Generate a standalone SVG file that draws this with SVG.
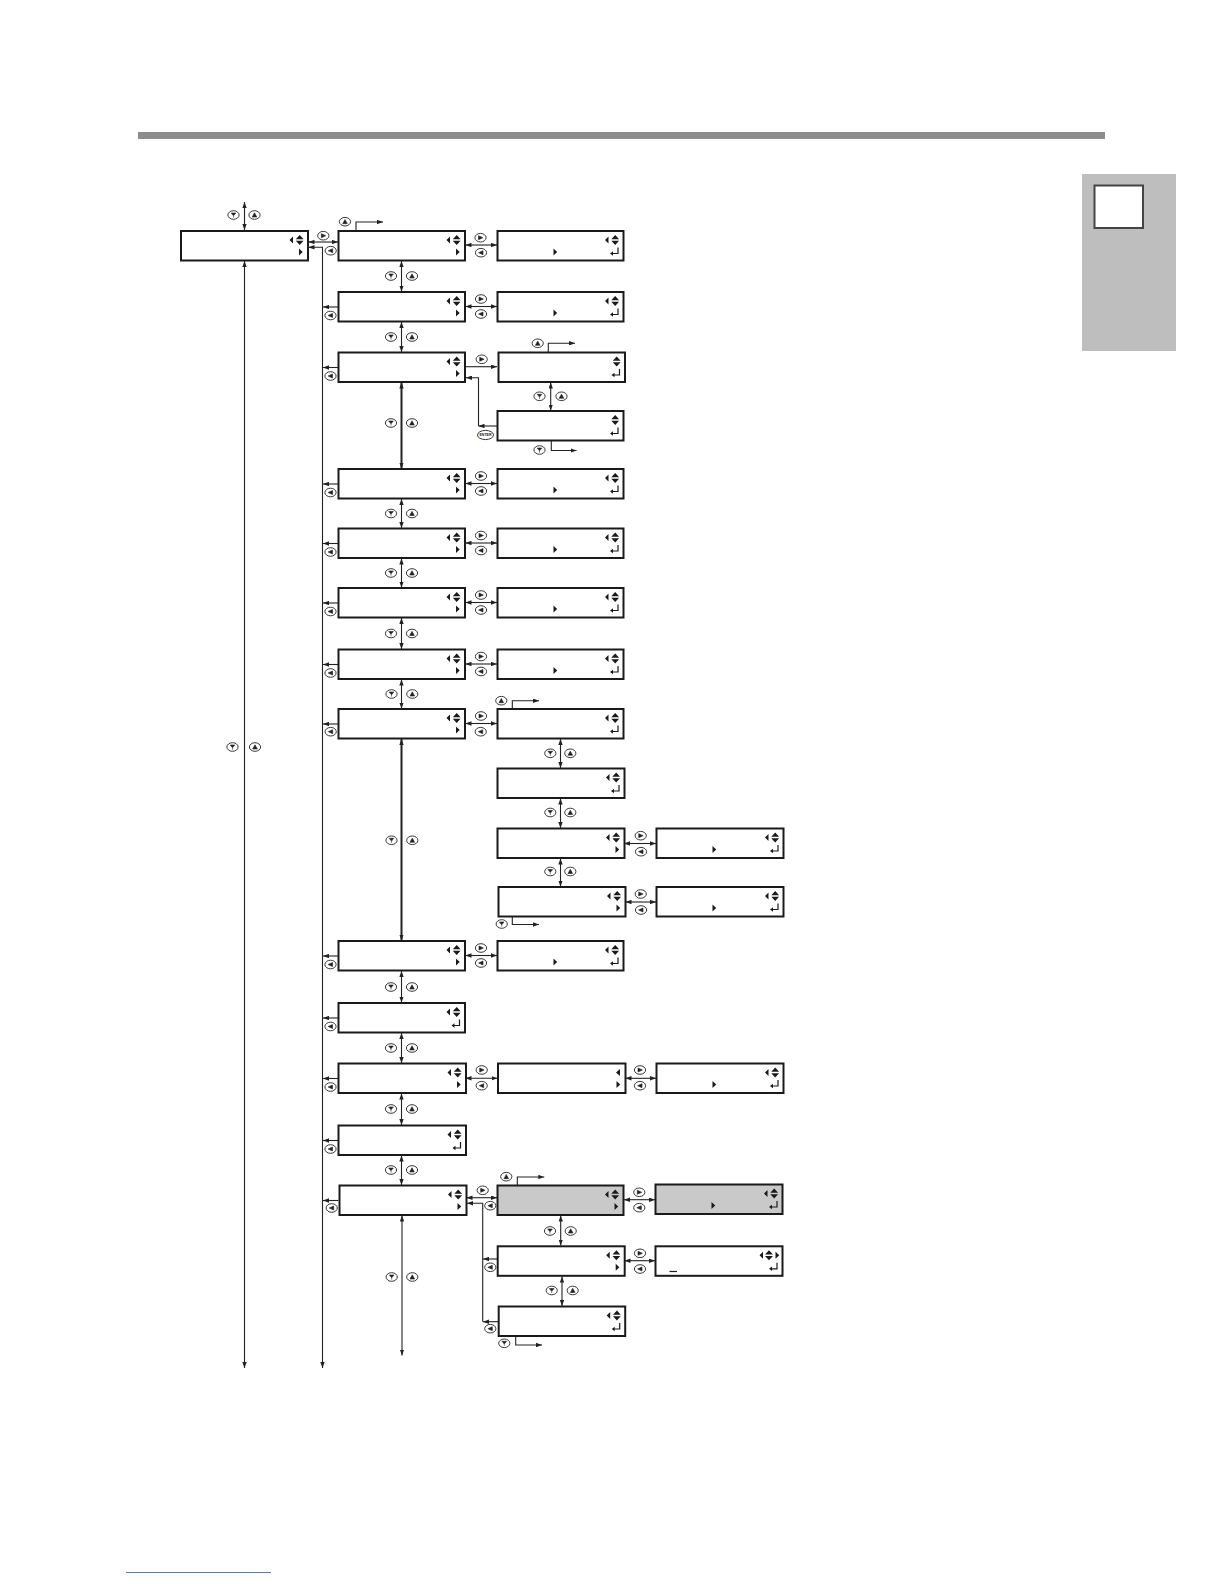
<svg xmlns="http://www.w3.org/2000/svg" xmlns:xlink="http://www.w3.org/1999/xlink" width="1224" height="1584" viewBox="0 0 1224 1584">
<style>
.box{fill:#fff;stroke:#1a1a1a;stroke-width:2}
.gbox{fill:#c9c9c9;stroke:#1a1a1a;stroke-width:2}
.ic{fill:#1a1a1a;stroke:none}
.ret{fill:none;stroke:#1a1a1a;stroke-width:1.2}
.c{fill:none;stroke:#222;stroke-width:1.1}
.ct{fill:none;stroke:#222;stroke-width:2}
.a2{marker-start:url(#ah);marker-end:url(#ah)}
.a1{marker-end:url(#ah)}
.be{fill:#fff;stroke:#222;stroke-width:0.9}
.bs{fill:#222;stroke:#222;stroke-width:0.6}
.et{font-family:"Liberation Sans",Arial,sans-serif;font-size:3.6px;font-weight:bold;fill:#222}
</style>
<defs>
<marker id="ah" markerUnits="userSpaceOnUse" markerWidth="6" markerHeight="4.4" refX="6" refY="2.2" orient="auto-start-reverse"><path d="M0,0 L6,2.2 L0,4.4 Z" fill="#222"/></marker>
<g id="iLU"><path class="ic" d="M-18.5,9 L-15,5.5 L-15,12.5 Z M-12.2,8.3 L-8.3,4 L-4.4,8.3 Z M-12.2,9.7 L-8.3,14 L-4.4,9.7 Z"/></g>
<g id="iUD"><path class="ic" d="M-12.2,8.3 L-8.3,4 L-4.4,8.3 Z M-12.2,9.7 L-8.3,14 L-4.4,9.7 Z"/></g>
<g id="iL"><path class="ic" d="M-9.5,9 L-5.5,5.5 L-5.5,12.5 Z"/></g>
<g id="iR"><path class="ic" d="M-9,17.5 L-5.3,21 L-9,24.5 Z"/></g>
<g id="iRL"><path class="ic" d="M-23,9 L-19.5,5.5 L-19.5,12.5 Z M-17.5,8.3 L-13.5,4 L-9.5,8.3 Z M-17.5,9.7 L-13.5,14 L-9.5,9.7 Z M-7,5.5 L-3.2,9 L-7,12.5 Z"/></g>
<g id="iRet"><path class="ret" d="M-5.5,16.5 V22.5 H-11"/><path class="ic" d="M-13.5,22.5 L-10.5,20.3 L-10.5,24.7 Z"/></g>
<g id="iMid"><path class="ic" d="M56,17.5 L59.7,21 L56,24.5 Z"/></g>
<g id="bD"><ellipse class="be" rx="5.6" ry="4.3"/><path class="bs" d="M-2.3,-2 L2.3,-2 L0,0.8 Z M0,0.8 V2.6"/></g>
<g id="bU"><ellipse class="be" rx="5.6" ry="4.3"/><path class="bs" d="M-2.3,2 L2.3,2 L0,-2.2 Z"/></g>
<g id="bR"><ellipse class="be" rx="5.6" ry="4.3"/><path class="bs" d="M-2,-2 L2.4,0 L-2,2 Z"/></g>
<g id="bL"><ellipse class="be" rx="5.6" ry="4.3"/><path class="bs" d="M2,-2 L-2.4,0 L2,2 Z"/></g>
</defs>

<rect x="138" y="132" width="967" height="7" fill="#8c8c8c"/>
<g id="tab">
<rect x="1082" y="174" width="94" height="177" fill="#bebebe"/>
<rect x="1094.5" y="185.5" width="48.5" height="42.5" fill="#fff" stroke="#444" stroke-width="2"/>
</g>
<line x1="126" y1="1572.5" x2="271" y2="1572.5" stroke="#5a78c0" stroke-width="1"/>

<g id="connectors">
<!-- column 1 -->
<path class="c a2" d="M244.5,202 V230"/>
<path class="c a2" d="M244.5,261 V1368"/>
<!-- box1 to R1 -->
<path class="c a2" d="M308.5,242 H338"/>
<path class="c a2" d="M322.5,1368 V247.3 H308.5"/>
<path class="c a1" d="M356,231 V222 H383"/>
<!-- column 2 verticals -->
<path class="c a2" d="M401.5,261 V291.5"/>
<path class="c a2" d="M401.5,322 V352"/>
<path class="ct a2" d="M401.5,382.5 V468.5"/>
<path class="c a2" d="M401.5,499 V528"/>
<path class="c a2" d="M401.5,558.5 V587.5"/>
<path class="c a2" d="M401.5,618 V649"/>
<path class="c a2" d="M401.5,679.5 V708.5"/>
<path class="ct a2" d="M401.5,739 V940.5"/>
<path class="c a2" d="M401.5,971 V1002.5"/>
<path class="c a2" d="M401.5,1033 V1063"/>
<path class="c a2" d="M401.5,1093.5 V1125"/>
<path class="c a2" d="M401.5,1155.5 V1185"/>
<path class="c a2" d="M402,1215.5 V1355.5"/>
<!-- column 2 left arrows -->
<path class="c a1" d="M338.5,307 H323"/>
<path class="c a1" d="M338.5,367.5 H323"/>
<path class="c a1" d="M338.5,484 H323"/>
<path class="c a1" d="M338.5,543.5 H323"/>
<path class="c a1" d="M338.5,603 H323"/>
<path class="c a1" d="M338.5,664.5 H323"/>
<path class="c a1" d="M338.5,724 H323"/>
<path class="c a1" d="M338.5,956 H323"/>
<path class="c a1" d="M338.5,1018 H323"/>
<path class="c a1" d="M338.5,1078.5 H323"/>
<path class="c a1" d="M338.5,1140.5 H323"/>
<path class="c a1" d="M338.5,1200.5 H323"/>
<!-- column 2 to column 3 -->
<path class="c a2" d="M465.5,245 H497"/>
<path class="c a2" d="M465.5,306.5 H497"/>
<path class="c a1" d="M465.5,366.7 H497"/>
<path class="c a1" d="M497.5,426 H478.5"/>
<path class="c a1" d="M478.5,426 V377.7 H466"/>
<path class="c a2" d="M465.5,483.5 H497"/>
<path class="c a2" d="M465.5,543 H497"/>
<path class="c a2" d="M465.5,602.5 H497"/>
<path class="c a2" d="M465.5,664 H497"/>
<path class="c a2" d="M465.5,723.5 H497"/>
<path class="c a2" d="M465.5,955.5 H497"/>
<path class="c a2" d="M465.5,1078.3 H497.5"/>
<path class="c a2" d="M466.5,1197.7 H497"/>
<path class="c a1" d="M482.7,1321.7 V1203.3 H467"/>
<path class="c a1" d="M497.5,1259 H483"/>
<path class="c a1" d="M498.5,1321.7 H483"/>
<!-- column 3 verticals -->
<path class="c a2" d="M550.7,382.5 V410.5"/>
<path class="c a2" d="M560.5,739 V768"/>
<path class="c a2" d="M560.5,798.5 V828"/>
<path class="c a2" d="M560.5,858.5 V886.5"/>
<path class="c a2" d="M560.7,1215.5 V1245.5"/>
<path class="c a2" d="M562,1276.5 V1306"/>
<!-- column 3 to column 4 -->
<path class="c a2" d="M624,843.5 H656"/>
<path class="c a2" d="M625.5,902 H656"/>
<path class="c a2" d="M625.5,1078.3 H656"/>
<path class="c a2" d="M624,1199.7 H655"/>
<path class="c a2" d="M624.5,1260.7 H655"/>
<!-- exit loops -->
<path class="c a1" d="M548.3,352.5 V343.3 H575"/>
<path class="c a1" d="M551.3,441 V450.5 H576.5"/>
<path class="c a1" d="M512.3,709 V700.7 H539"/>
<path class="c a1" d="M512.3,917 V924.5 H539"/>
<path class="c a1" d="M517.3,1185.5 V1177 H544.3"/>
<path class="c a1" d="M515.7,1336 V1345 H542"/>
</g>

<g id="buttons">
<use href="#bD" x="233.5" y="215"/><use href="#bU" x="254.5" y="215"/>
<use href="#bD" x="232.5" y="747"/><use href="#bU" x="255" y="747"/>
<use href="#bR" x="323.3" y="235.7"/><use href="#bL" x="330.7" y="250.7"/>
<use href="#bU" x="345" y="221.7"/>
<!-- col2 vertical buttons -->
<use href="#bD" x="391" y="276"/><use href="#bU" x="412" y="276"/>
<use href="#bD" x="391" y="337"/><use href="#bU" x="412" y="337"/>
<use href="#bD" x="391" y="423"/><use href="#bU" x="412" y="423"/>
<use href="#bD" x="391" y="513.5"/><use href="#bU" x="412" y="513.5"/>
<use href="#bD" x="391" y="573"/><use href="#bU" x="412" y="573"/>
<use href="#bD" x="391" y="633.5"/><use href="#bU" x="412" y="633.5"/>
<use href="#bD" x="391.5" y="694"/><use href="#bU" x="412.3" y="694"/>
<use href="#bD" x="391.5" y="840.3"/><use href="#bU" x="412.3" y="840.3"/>
<use href="#bD" x="391" y="987"/><use href="#bU" x="412" y="987"/>
<use href="#bD" x="391" y="1048"/><use href="#bU" x="412" y="1048"/>
<use href="#bD" x="391" y="1109"/><use href="#bU" x="412" y="1109"/>
<use href="#bD" x="391" y="1170"/><use href="#bU" x="412" y="1170"/>
<use href="#bD" x="391.7" y="1277"/><use href="#bU" x="412.3" y="1277"/>
<!-- col2 left buttons -->
<use href="#bL" x="330.5" y="315.5"/>
<use href="#bL" x="330.5" y="376"/>
<use href="#bL" x="330.5" y="492.5"/>
<use href="#bL" x="330.5" y="552"/>
<use href="#bL" x="330.5" y="611.5"/>
<use href="#bL" x="330.5" y="673"/>
<use href="#bL" x="330.7" y="731.7"/>
<use href="#bL" x="330.5" y="964.5"/>
<use href="#bL" x="330.5" y="1026.5"/>
<use href="#bL" x="330.5" y="1087"/>
<use href="#bL" x="330.5" y="1149"/>
<use href="#bL" x="331.7" y="1208"/>
<!-- col2 to col3 buttons -->
<use href="#bR" x="480.5" y="237.7"/><use href="#bL" x="481" y="252.7"/>
<use href="#bR" x="481" y="299"/><use href="#bL" x="481" y="314"/>
<use href="#bR" x="481.7" y="359.3"/>
<g transform="translate(485.5,435)"><ellipse class="be" rx="8" ry="4.6"/><text class="et" x="0" y="1.3" text-anchor="middle">ENTER</text></g>
<use href="#bR" x="481" y="476"/><use href="#bL" x="481" y="491"/>
<use href="#bR" x="481" y="535.5"/><use href="#bL" x="481" y="550.5"/>
<use href="#bR" x="481" y="595"/><use href="#bL" x="481" y="610"/>
<use href="#bR" x="481" y="656.5"/><use href="#bL" x="481" y="671.5"/>
<use href="#bR" x="481" y="716"/><use href="#bL" x="480.7" y="731.7"/>
<use href="#bR" x="481" y="948"/><use href="#bL" x="481" y="963"/>
<use href="#bR" x="481.7" y="1070"/><use href="#bL" x="481.7" y="1085.7"/>
<use href="#bR" x="482.7" y="1190.3"/><use href="#bL" x="490.3" y="1205.7"/>
<use href="#bL" x="490.3" y="1267.3"/>
<use href="#bL" x="490.3" y="1328.7"/>
<!-- col3 vertical buttons -->
<use href="#bD" x="539.5" y="396.3"/><use href="#bU" x="561.5" y="396.3"/>
<use href="#bD" x="550.3" y="753.3"/><use href="#bU" x="570.3" y="753.3"/>
<use href="#bD" x="550.3" y="812.5"/><use href="#bU" x="570.3" y="812.5"/>
<use href="#bD" x="550.3" y="871.5"/><use href="#bU" x="570.3" y="871.5"/>
<use href="#bD" x="550" y="1231"/><use href="#bU" x="570.7" y="1231"/>
<use href="#bD" x="551.7" y="1290.5"/><use href="#bU" x="572.7" y="1290.5"/>
<!-- col3 to col4 buttons -->
<use href="#bR" x="640.7" y="835.7"/><use href="#bL" x="641" y="851.7"/>
<use href="#bR" x="640.7" y="894"/><use href="#bL" x="641" y="910"/>
<use href="#bR" x="640" y="1070"/><use href="#bL" x="640" y="1085.7"/>
<use href="#bR" x="639.3" y="1192.3"/><use href="#bL" x="639.3" y="1207.7"/>
<use href="#bR" x="640" y="1253.3"/><use href="#bL" x="640" y="1269"/>
<!-- loop buttons -->
<use href="#bU" x="537.7" y="343.3"/>
<use href="#bD" x="539.5" y="450"/>
<use href="#bU" x="501.3" y="700.7"/>
<use href="#bD" x="501.7" y="924"/>
<use href="#bU" x="506.3" y="1176.7"/>
<use href="#bD" x="504.3" y="1343.3"/>
</g>

<g id="n0"><rect class="box" x="181" y="231" width="127" height="29.5"/><use href="#iLU" x="308" y="231"/><use href="#iR" x="308" y="231"/></g>

<g id="c2r1"><rect class="box" x="338.5" y="231" width="126.5" height="29.5"/><use href="#iLU" x="465" y="231"/><use href="#iR" x="465" y="231"/></g>
<g id="c2r2"><rect class="box" x="338.5" y="292" width="126.5" height="29.5"/><use href="#iLU" x="465" y="292"/><use href="#iR" x="465" y="292"/></g>
<g id="c2r3"><rect class="box" x="338.5" y="352.5" width="126.5" height="29.5"/><use href="#iLU" x="465" y="352.5"/><use href="#iR" x="465" y="352.5"/></g>
<g id="c2r4"><rect class="box" x="338.5" y="469" width="126.5" height="29.5"/><use href="#iLU" x="465" y="469"/><use href="#iR" x="465" y="469"/></g>
<g id="c2r5"><rect class="box" x="338.5" y="528.5" width="126.5" height="29.5"/><use href="#iLU" x="465" y="528.5"/><use href="#iR" x="465" y="528.5"/></g>
<g id="c2r6"><rect class="box" x="338.5" y="588" width="126.5" height="29.5"/><use href="#iLU" x="465" y="588"/><use href="#iR" x="465" y="588"/></g>
<g id="c2r7"><rect class="box" x="338.5" y="649.5" width="126.5" height="29.5"/><use href="#iLU" x="465" y="649.5"/><use href="#iR" x="465" y="649.5"/></g>
<g id="c2r8"><rect class="box" x="338.5" y="709" width="126.5" height="29.5"/><use href="#iLU" x="465" y="709"/><use href="#iR" x="465" y="709"/></g>
<g id="c2r9"><rect class="box" x="338.5" y="941" width="126.5" height="29.5"/><use href="#iLU" x="465" y="941"/><use href="#iR" x="465" y="941"/></g>
<g id="c2r10"><rect class="box" x="338.5" y="1003" width="126.5" height="29.5"/><use href="#iLU" x="465" y="1003"/><use href="#iRet" x="465" y="1003"/></g>
<g id="c2r11"><rect class="box" x="338.5" y="1063.5" width="127.5" height="29.5"/><use href="#iLU" x="466" y="1063.5"/><use href="#iR" x="466" y="1063.5"/></g>
<g id="c2r12"><rect class="box" x="338.5" y="1125.5" width="127.5" height="29.5"/><use href="#iLU" x="466" y="1125.5"/><use href="#iRet" x="466" y="1125.5"/></g>
<g id="c2r13"><rect class="box" x="339.5" y="1185.5" width="127" height="29.5"/><use href="#iLU" x="466.5" y="1185.5"/><use href="#iR" x="466.5" y="1185.5"/></g>

<g id="c3r1"><rect class="box" x="497.5" y="231" width="126" height="29.5"/><use href="#iLU" x="623.5" y="231"/><use href="#iMid" x="497.5" y="231"/><use href="#iRet" x="623.5" y="231"/></g>
<g id="c3r2"><rect class="box" x="497.5" y="292" width="126" height="29.5"/><use href="#iLU" x="623.5" y="292"/><use href="#iMid" x="497.5" y="292"/><use href="#iRet" x="623.5" y="292"/></g>
<g id="c3r3a"><rect class="box" x="498.5" y="352.5" width="126.5" height="29.5"/><use href="#iUD" x="625" y="352.5"/><use href="#iRet" x="625" y="352.5"/></g>
<g id="c3r3b"><rect class="box" x="497.5" y="411" width="126" height="29.5"/><use href="#iUD" x="623.5" y="411"/><use href="#iRet" x="623.5" y="411"/></g>
<g id="c3r4"><rect class="box" x="497.5" y="469" width="126" height="29.5"/><use href="#iLU" x="623.5" y="469"/><use href="#iMid" x="497.5" y="469"/><use href="#iRet" x="623.5" y="469"/></g>
<g id="c3r5"><rect class="box" x="497.5" y="528.5" width="126" height="29.5"/><use href="#iLU" x="623.5" y="528.5"/><use href="#iMid" x="497.5" y="528.5"/><use href="#iRet" x="623.5" y="528.5"/></g>
<g id="c3r6"><rect class="box" x="497.5" y="588" width="126" height="29.5"/><use href="#iLU" x="623.5" y="588"/><use href="#iMid" x="497.5" y="588"/><use href="#iRet" x="623.5" y="588"/></g>
<g id="c3r7"><rect class="box" x="497.5" y="649.5" width="126" height="29.5"/><use href="#iLU" x="623.5" y="649.5"/><use href="#iMid" x="497.5" y="649.5"/><use href="#iRet" x="623.5" y="649.5"/></g>
<g id="c3r8a"><rect class="box" x="497.5" y="709" width="126" height="29.5"/><use href="#iLU" x="623.5" y="709"/><use href="#iRet" x="623.5" y="709"/></g>
<g id="c3r8b"><rect class="box" x="497.5" y="768.5" width="127" height="29.5"/><use href="#iLU" x="624.5" y="768.5"/><use href="#iRet" x="624.5" y="768.5"/></g>
<g id="c3r8c"><rect class="box" x="497.5" y="828.5" width="127" height="29.5"/><use href="#iLU" x="624.5" y="828.5"/><use href="#iR" x="624.5" y="828.5"/></g>
<g id="c3r8d"><rect class="box" x="498.5" y="887" width="127" height="29.5"/><use href="#iLU" x="625.5" y="887"/><use href="#iR" x="625.5" y="887"/></g>
<g id="c3r9"><rect class="box" x="497.5" y="941" width="126" height="29.5"/><use href="#iLU" x="623.5" y="941"/><use href="#iMid" x="497.5" y="941"/><use href="#iRet" x="623.5" y="941"/></g>
<g id="c3r11"><rect class="box" x="498" y="1063.5" width="127.5" height="29.5"/><use href="#iL" x="625.5" y="1063.5"/><use href="#iR" x="625.5" y="1063.5"/></g>
<g id="c3r13a"><rect class="gbox" x="497.5" y="1185.5" width="126" height="29.5"/><use href="#iLU" x="623.5" y="1185.5"/><use href="#iR" x="623.5" y="1185.5"/></g>
<g id="c3r13b"><rect class="box" x="497.7" y="1246.3" width="127" height="29.5"/><use href="#iLU" x="624.7" y="1246.3"/><use href="#iR" x="624.7" y="1246.3"/></g>
<g id="c3r13c"><rect class="box" x="498.7" y="1306.5" width="126.5" height="29.5"/><use href="#iLU" x="625.2" y="1306.5"/><use href="#iRet" x="625.2" y="1306.5"/></g>

<g id="c4r8c"><rect class="box" x="656.5" y="828.5" width="127" height="29.5"/><use href="#iLU" x="783.5" y="828.5"/><use href="#iMid" x="656.5" y="828.5"/><use href="#iRet" x="783.5" y="828.5"/></g>
<g id="c4r8d"><rect class="box" x="656.5" y="887" width="127" height="29.5"/><use href="#iLU" x="783.5" y="887"/><use href="#iMid" x="656.5" y="887"/><use href="#iRet" x="783.5" y="887"/></g>
<g id="c4r11"><rect class="box" x="656.5" y="1063.5" width="127" height="29.5"/><use href="#iLU" x="783.5" y="1063.5"/><use href="#iMid" x="656.5" y="1063.5"/><use href="#iRet" x="783.5" y="1063.5"/></g>
<g id="c4r13a"><rect class="gbox" x="655.5" y="1184.5" width="127" height="29.5"/><use href="#iLU" x="782.5" y="1184.5"/><use href="#iMid" x="655.5" y="1184.5"/><use href="#iRet" x="782.5" y="1184.5"/></g>
<g id="c4r13b"><rect class="box" x="655.5" y="1246.3" width="127" height="29.5"/><use href="#iRL" x="782.5" y="1246.3"/><line x1="669.5" y1="1271.5" x2="677" y2="1271.5" stroke="#1a1a1a" stroke-width="1.2"/><use href="#iRet" x="782.5" y="1246.3"/></g>
</svg>
